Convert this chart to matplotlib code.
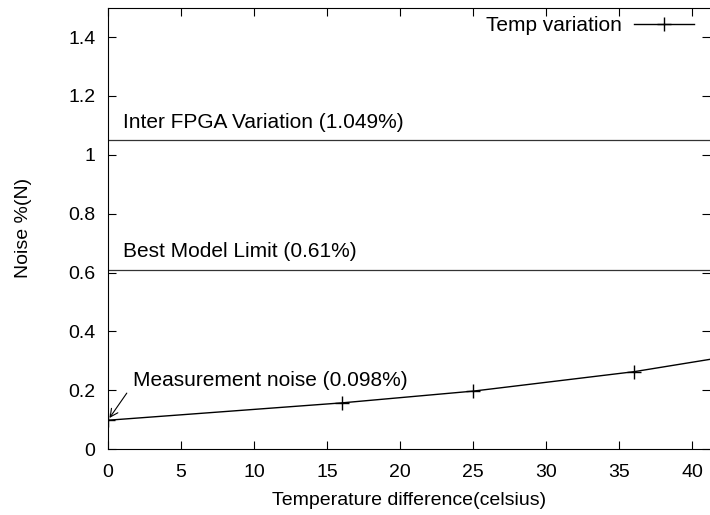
import matplotlib.pyplot as plt

plt.rcParams['font.family'] = ['Liberation Sans', 'DejaVu Sans']
plt.rcParams['font.size'] = 14

# measured noise vs temperature difference
temp_diff = [0, 16, 25, 36, 41.2]
noise = [0.098, 0.157, 0.197, 0.263, 0.305]
marker_x = [0, 16, 25, 36]
marker_y = [0.098, 0.157, 0.197, 0.263]

inter_fpga = 1.049
best_model = 0.61
meas_noise = 0.098

fig = plt.figure(figsize=(7.1, 5.15), dpi=100)
ax = fig.add_axes([0.152, 0.128, 0.848, 0.857])

ax.plot(temp_diff, noise, color='black', linewidth=1.0)
ax.plot(marker_x, marker_y, linestyle='none', marker='+', markersize=10,
        color='black', markeredgewidth=1.0)
# legend proxy (line with point)
ax.plot([], [], color='black', linewidth=1.0, marker='+', markersize=10,
        label='Temp variation')

ax.axhline(inter_fpga, color='#333333', linewidth=0.9)
ax.axhline(best_model, color='#333333', linewidth=0.9)

ax.text(1.0, inter_fpga + 0.03, 'Inter FPGA Variation (1.049%)', va='bottom', fontsize=15)
ax.text(1.0, best_model + 0.03, 'Best Model Limit (0.61%)', va='bottom', fontsize=15)
ax.text(1.7, 0.232, 'Measurement noise (0.098%)', va='center', fontsize=15)
ax.annotate('', xy=(0, meas_noise), xytext=(1.4, 0.198),
            arrowprops=dict(arrowstyle='->', color='black', lw=0.8))

ax.set_xlim(0, 41.2)
ax.set_ylim(0, 1.5)
ax.set_xticks(range(0, 45, 5))
ax.set_yticks([0, 0.2, 0.4, 0.6, 0.8, 1.0, 1.2, 1.4])
ax.set_yticklabels(['0', '0.2', '0.4', '0.6', '0.8', '1', '1.2', '1.4'])
ax.tick_params(direction='in', length=6, top=True, right=True)
ax.tick_params(axis='x', pad=11)
ax.tick_params(axis='y', pad=9)
ax.spines['right'].set_visible(False)

ax.set_xlabel('Temperature difference(celsius)', labelpad=8)
ax.set_ylabel('Noise %(N)', labelpad=26)

leg = ax.legend(loc='upper right', frameon=False, markerfirst=False,
                handlelength=2.9, handletextpad=0.6, fontsize=15,
                borderaxespad=0.2, bbox_to_anchor=(0.995, 1.01))

fig.savefig('out.png', dpi=100)
